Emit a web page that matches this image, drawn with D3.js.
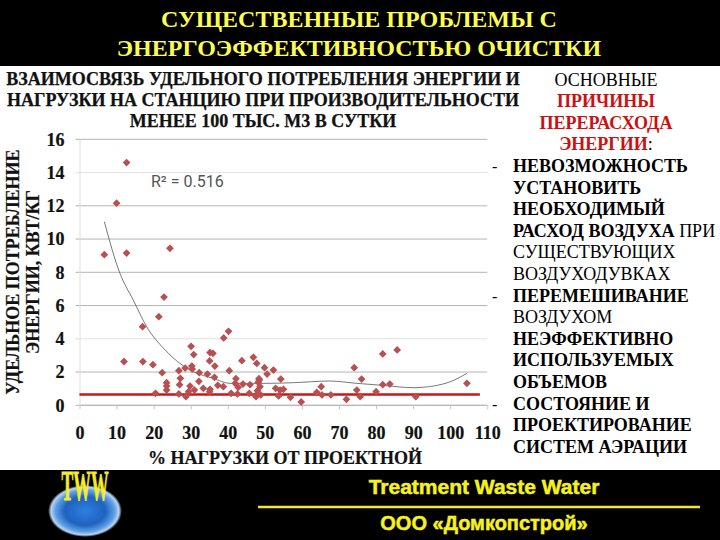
<!DOCTYPE html>
<html><head><meta charset="utf-8">
<script src="https://cdn.jsdelivr.net/npm/d3@7"></script>
<style>html,body{margin:0;padding:0;background:#fff;overflow:hidden}svg{display:block}text{font-family:"Liberation Serif",serif}</style>
</head><body><svg id="c" width="720" height="540"></svg>
<script>
const titleLines=["СУЩЕСТВЕННЫЕ ПРОБЛЕМЫ С","ЭНЕРГОЭФФЕКТИВНОСТЬЮ ОЧИСТКИ"];
const chartTitle=["ВЗАИМОСВЯЗЬ УДЕЛЬНОГО ПОТРЕБЛЕНИЯ ЭНЕРГИИ И","НАГРУЗКИ НА СТАНЦИЮ ПРИ ПРОИЗВОДИТЕЛЬНОСТИ","МЕНЕЕ 100 ТЫС. М3 В СУТКИ"];
const yLabel=["УДЕЛЬНОЕ ПОТРЕБЛЕНИЕ","ЭНЕРГИИ, КВТ/КГ"];
const xLabel="% НАГРУЗКИ ОТ ПРОЕКТНОЙ";
const xTicks=[0,10,20,30,40,50,60,70,80,90,100,110];
const yTicks=[0,2,4,6,8,10,12,14,16];
const points=[[12.7,14.6],[10,12.16],[6.7,9.06],[12.7,9.16],[24.4,9.44],[22.8,6.51],[21.4,5.33],[17,4.73],[12,2.63],[17.1,2.63],[19.8,2.44],[22.3,1.96],[20.5,.72],[23.5,1.36],[23.5,1.16],[23.5,.92],[26.8,.68],[26.8,2.08],[27.2,1.62],[27,1.24],[28.7,.52],[28.5,2.24],[30.1,3.55],[30.8,3.05],[30.3,2.36],[30.4,2.18],[29.8,1.16],[29.4,.82],[31,.92],[32.3,1.96],[32.2,1.44],[33.4,1.02],[34.5,1.88],[35.2,3.17],[36,3.13],[35.1,2.67],[36.5,2.36],[36.4,1.68],[35.2,.96],[35.1,.82],[37.3,1.2],[38.8,1.12],[38.9,4.05],[40.2,4.45],[40.4,2.08],[40.9,.72],[42.2,1.6],[42,1.32],[42.8,1.08],[42.6,.68],[44.1,1.28],[43.8,2.68],[45.8,.72],[46,1.24],[46.9,2.89],[47.8,2.52],[48.5,1.52],[47.8,.66],[49.9,2.26],[50.6,1.88],[52.3,2.12],[48.4,1.6],[48.2,1.38],[48.7,1.12],[48,.88],[48.9,.62],[47.6,.52],[54.3,1.58],[52.9,1.02],[54.1,.92],[55,.96],[53.7,.56],[56.9,.48],[59.8,.2],[64,.78],[65.2,1.12],[65.4,.62],[67.8,.62],[72,.36],[74.1,2.26],[76.1,1.58],[74.8,.92],[75.7,.52],[80,.82],[81.8,3.09],[85.7,3.33],[81.8,1.24],[83.7,1.28],[90.7,.52],[104.5,1.32]];
const trend=[[6.7,11.04],[10.9,7.94],[14.5,6.33],[18.1,4.73],[23.1,3.33],[27.1,2.52],[30.7,2.02],[36.1,1.62],[40.6,1.32],[50.5,1.32],[57.7,1.36],[67.5,1.46],[74.8,1.32],[81.8,1.2],[90,1.06],[95.5,1.16],[100,1.42],[104.5,1.92]];
const limitValue=0.65, limitRange=[0,108];
const r2Text="R² = 0.516";
const reasons=[
 {a:"middle",runs:[["ОСНОВНЫЕ",0,0]]},
 {a:"middle",runs:[["ПРИЧИНЫ",1,1]]},
 {a:"middle",runs:[["ПЕРЕРАСХОДА",1,1]]},
 {a:"middle",runs:[["ЭНЕРГИИ",1,1],[":",0,0]]},
 {b:1,runs:[["НЕВОЗМОЖНОСТЬ",1,0]]},
 {runs:[["УСТАНОВИТЬ",1,0]]},
 {runs:[["НЕОБХОДИМЫЙ",1,0]]},
 {runs:[["РАСХОД ВОЗДУХА",1,0],[" ПРИ",0,0]]},
 {runs:[["СУЩЕСТВУЮЩИХ",0,0]]},
 {runs:[["ВОЗДУХОДУВКАХ",0,0]]},
 {b:1,runs:[["ПЕРЕМЕШИВАНИЕ",1,0]]},
 {runs:[["ВОЗДУХОМ",0,0]]},
 {runs:[["НЕЭФФЕКТИВНО",1,0]]},
 {runs:[["ИСПОЛЬЗУЕМЫХ",1,0]]},
 {runs:[["ОБЪЕМОВ",1,0]]},
 {b:1,runs:[["СОСТОЯНИЕ И",1,0]]},
 {runs:[["ПРОЕКТИРОВАНИЕ",1,0]]},
 {runs:[["СИСТЕМ АЭРАЦИИ",1,0]]}
];
const footer=["Treatment Waste Water","ООО «Домкопстрой»"];
const logoText="TWW";

const svg=d3.select("#c");
const defs=svg.append("defs");
const g=defs.append("radialGradient").attr("id","globe").attr("cx","50%").attr("cy","50%").attr("r","50%");
[[0,"#2f7fe0"],[.55,"#1f62c0"],[.8,"#5f9fe6"],[.92,"#b8d4f0"],[1,"#000"]].forEach(s=>g.append("stop").attr("offset",s[0]).attr("stop-color",s[1]));

svg.append("rect").attr("width",720).attr("height",66).attr("fill","#000");
svg.append("rect").attr("y",470).attr("width",720).attr("height",70).attr("fill","#000");
svg.selectAll("text.t").data(titleLines).join("text").attr("class","t").attr("x",359).attr("y",(d,i)=>27+i*29)
  .attr("text-anchor","middle").attr("fill","#fdfd50").attr("font-size",24).attr("font-weight","bold").text(d=>d);

const x=d3.scaleLinear().domain([0,110]).range([79.5,487.3]);
const y=d3.scaleLinear().domain([0,16]).range([405.3,139.3]);
const ink="#111";
svg.selectAll("text.ct").data(chartTitle).join("text").attr("class","ct").attr("x",263).attr("y",(d,i)=>85+i*21)
  .attr("text-anchor","middle").attr("fill",ink).attr("stroke",ink).attr("stroke-width",.25).attr("font-size",18).attr("font-weight","bold").text(d=>d);
svg.append("g").attr("stroke-width",1).selectAll("line").data(yTicks).join("line")
  .attr("x1",x(0)-4).attr("x2",x(110)).attr("y1",d=>y(d)).attr("y2",d=>y(d)).attr("stroke",d=>d===4||d===14?"#e2e2e2":"#b4b4b4");

const ax=svg.append("g").attr("transform",`translate(0,${y(0)})`).call(d3.axisBottom(x).tickValues(xTicks).tickSize(4).tickPadding(17).tickFormat(d3.format("d")));
ax.select(".domain").attr("stroke","#b4b4b4").attr("d",`M${x(0)},0H${x(110)}`);
ax.selectAll(".tick line").attr("stroke","#c4c4c4");
ax.selectAll("text").attr("fill",ink).attr("stroke",ink).attr("stroke-width",.2).attr("font-size",18).attr("font-weight","bold").attr("font-family","Liberation Serif");
const ay=svg.append("g").attr("transform",`translate(${x(0)},0)`).call(d3.axisLeft(y).tickValues(yTicks).tickSize(0).tickPadding(15).tickFormat(d3.format("d")));
ay.select(".domain").attr("stroke","#dedede");
ay.selectAll("text").attr("fill",ink).attr("stroke",ink).attr("stroke-width",.2).attr("font-size",18).attr("font-weight","bold").attr("font-family","Liberation Serif");

svg.append("path").datum(trend).attr("fill","none").attr("stroke","#555").attr("stroke-width",.8)
  .attr("d",d3.line().x(d=>x(d[0])).y(d=>y(d[1])).curve(d3.curveMonotoneX));
svg.append("line").attr("x1",x(limitRange[0])).attr("x2",x(limitRange[1])).attr("y1",y(limitValue)).attr("y2",y(limitValue)).attr("stroke","#cf1414").attr("stroke-width",2.4);
svg.append("g").attr("fill","#b84f50").selectAll("path").data(points).join("path")
  .attr("transform",d=>`translate(${x(d[0])},${y(d[1])}) rotate(45)`).attr("d",d3.symbol(d3.symbolSquare,30));
svg.append("text").attr("x",151).attr("y",187).attr("fill","#555").attr("font-size",16).style("font-family","Roboto,'Open Sans',sans-serif").text(r2Text);

svg.selectAll("text.yl").data(yLabel).join("text").attr("class","yl").attr("transform",(d,i)=>`translate(${[19,39][i]},272) rotate(-90)`)
  .attr("text-anchor","middle").attr("fill",ink).attr("stroke",ink).attr("stroke-width",.2).attr("font-size",18).attr("font-weight","bold").text(d=>d);
svg.append("text").attr("x",285).attr("y",464).attr("text-anchor","middle").attr("fill",ink).attr("stroke",ink).attr("stroke-width",.2).attr("font-size",18).attr("font-weight","bold").text(xLabel);

const lh=21.6;
reasons.forEach((r,i)=>{
  const yy=85.5+i*lh;
  const t=svg.append("text").attr("y",yy).attr("font-size",18).attr("fill","#000")
    .attr("x",r.a?606:513).attr("text-anchor",r.a?"middle":"start");
  r.runs.forEach(u=>t.append("tspan").attr("font-weight",u[1]?"bold":"normal").attr("fill",u[2]?"#cc1111":"#000").style("white-space","pre").text(u[0]));
  if(r.b) svg.append("text").attr("x",492).attr("y",yy).attr("font-size",16).text("-");
});

svg.append("ellipse").attr("cx",85).attr("cy",511).attr("rx",37).attr("ry",26).attr("fill","url(#globe)");
svg.append("text").attr("transform","translate(85,500) scale(.42,1)").attr("text-anchor","middle").attr("fill","#f5ec2a").attr("stroke","#f5ec2a").attr("stroke-width",.8).attr("font-size",42).attr("font-weight","bold").text(logoText);
svg.append("text").attr("x",484).attr("y",494).attr("text-anchor","middle").attr("fill","#f7f21e").attr("stroke","#f7f21e").attr("stroke-width",.5).attr("font-size",21).attr("font-weight","bold").style("font-family","'Liberation Sans',sans-serif").text(footer[0]);
svg.append("line").attr("x1",258).attr("x2",700).attr("y1",507).attr("y2",507).attr("stroke","#f0ea20").attr("stroke-width",2.5);
svg.append("text").attr("x",484).attr("y",530).attr("text-anchor","middle").attr("fill","#f7f21e").attr("stroke","#f7f21e").attr("stroke-width",.5).attr("font-size",20).attr("font-weight","bold").style("font-family","'Liberation Sans',sans-serif").text(footer[1]);
</script></body></html>
